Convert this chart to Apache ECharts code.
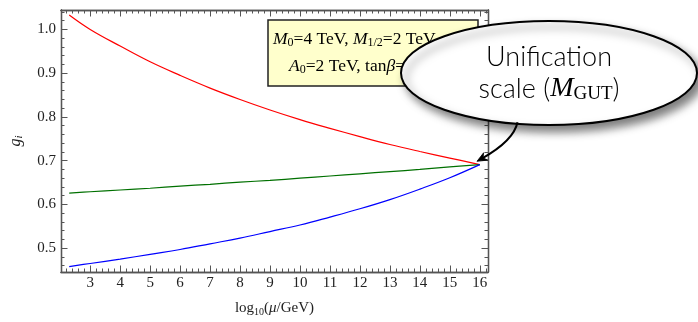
<!DOCTYPE html>
<html>
<head>
<meta charset="utf-8">
<script src="https://cdn.jsdelivr.net/npm/echarts@6/dist/echarts.min.js"></script>
<style>
  html, body { margin: 0; padding: 0; background: #fff; }
  #chart { width: 698px; height: 322px; }
</style>
</head>
<body>
<div id="chart"></div>
<script>
// Running gauge couplings g_i versus log10(mu / GeV)
const logMu = [2.3, 3, 4, 5, 6, 7, 8, 9, 10, 11, 12, 13, 14, 15, 16];
const g3 = [1.033, 1.000, 0.962, 0.926, 0.895, 0.866, 0.840, 0.816, 0.794, 0.774, 0.755, 0.737, 0.721, 0.706, 0.691];
const g2 = [0.626, 0.629, 0.633, 0.637, 0.642, 0.646, 0.651, 0.655, 0.660, 0.665, 0.670, 0.675, 0.680, 0.686, 0.691];
const g1 = [0.458, 0.465, 0.475, 0.486, 0.497, 0.510, 0.523, 0.538, 0.553, 0.571, 0.590, 0.611, 0.635, 0.661, 0.691];

const xTickLabels = [3, 4, 5, 6, 7, 8, 9, 10, 11, 12, 13, 14, 15, 16];
const yTickLabels = [0.5, 0.6, 0.7, 0.8, 0.9, 1.0];

const X_MIN = 2.026, X_MAX = 16.274;
const Y_MIN = 0.4455, Y_MAX = 1.0445;

const FRAME = '#555';
const SERIF = '"Liberation Serif", "DejaVu Serif", serif';

const pairs = ys => logMu.map((x, i) => [x, ys[i]]);
const near = (v, list) => list.some(t => Math.abs(t - v) < 1e-6);

function frameAxis(dim, position, step, len, labels, extra) {
  const isX = dim === 'x';
  return Object.assign({
    type: 'value',
    position: position,
    min: isX ? X_MIN : Y_MIN,
    max: isX ? X_MAX : Y_MAX,
    minInterval: step,
    maxInterval: step,
    axisLine: { show: true, onZero: false, lineStyle: { color: FRAME, width: 1.3 } },
    axisTick: { show: true, inside: true, length: len, lineStyle: { color: FRAME, width: 1 } },
    axisLabel: labels ? Object.assign({
      show: true, color: '#222', fontFamily: SERIF, fontSize: 15,
      showMinLabel: true, showMaxLabel: true, hideOverlap: false
    }, labels) : { show: false },
    splitLine: { show: false },
    minorTick: { show: false },
    minorSplitLine: { show: false }
  }, extra || {});
}

const chart = echarts.init(document.getElementById('chart'), null, { renderer: 'canvas' });

const option = {
  animation: false,
  backgroundColor: '#fff',
  grid: { left: 53, right: 210, top: 10, bottom: 44, containLabel: false },
  xAxis: [
    frameAxis('x', 'bottom', 1, 6.5, {
      margin: 4,
      formatter: v => near(v, xTickLabels) ? String(Math.round(v)) : ''
    }, {
      name: '{n|log}{s|10}{n|(}{i|μ}{n|/GeV)}',
      nameLocation: 'middle',
      nameGap: 27,
      nameTextStyle: {
        color: '#222', fontFamily: SERIF, fontSize: 15,
        rich: {
          n: { fontFamily: SERIF, fontSize: 15, color: '#222', lineHeight: 18, verticalAlign: 'middle' },
          s: { fontFamily: SERIF, fontSize: 10, color: '#222', lineHeight: 11, verticalAlign: 'bottom' },
          i: { fontFamily: SERIF, fontSize: 15, color: '#222', fontStyle: 'italic', lineHeight: 18, verticalAlign: 'middle' }
        }
      }
    }),
    frameAxis('x', 'bottom', 0.2, 3.5, null),
    frameAxis('x', 'top', 1, 6.5, null),
    frameAxis('x', 'top', 0.2, 3.5, null)
  ],
  yAxis: [
    frameAxis('y', 'left', 0.1, 6.5, {
      margin: 5,
      formatter: v => near(v, yTickLabels) ? v.toFixed(1) : ''
    }, {
      name: '{i|g}{s|i}',
      nameLocation: 'middle',
      nameRotate: 90,
      nameGap: 36,
      nameTextStyle: {
        color: '#222', fontFamily: SERIF, fontSize: 16,
        rich: {
          i: { fontFamily: SERIF, fontSize: 16, fontStyle: 'italic', color: '#222', lineHeight: 18, verticalAlign: 'middle' },
          s: { fontFamily: SERIF, fontSize: 11, fontStyle: 'italic', color: '#222', lineHeight: 11, verticalAlign: 'bottom' }
        }
      }
    }),
    frameAxis('y', 'left', 0.02, 3.5, null),
    frameAxis('y', 'right', 0.1, 6.5, null),
    frameAxis('y', 'right', 0.02, 3.5, null)
  ],
  series: [
    { name: 'g3', type: 'line', data: pairs(g3), smooth: 0.4, showSymbol: false, symbol: 'none',
      xAxisIndex: 0, yAxisIndex: 0, lineStyle: { color: '#ff0000', width: 1.2 }, z: 3 },
    { name: 'g2', type: 'line', data: pairs(g2), smooth: 0.4, showSymbol: false, symbol: 'none',
      xAxisIndex: 0, yAxisIndex: 0, lineStyle: { color: '#007000', width: 1.2 }, z: 3 },
    { name: 'g1', type: 'line', data: pairs(g1), smooth: 0.4, showSymbol: false, symbol: 'none',
      xAxisIndex: 0, yAxisIndex: 0, lineStyle: { color: '#0000ff', width: 1.2 }, z: 3 }
  ]
};

chart.setOption(option);

// Parameter box, speech bubble and the arrow pointing at the unification point
const last = logMu.length - 1;
const p = chart.convertToPixel({ xAxisIndex: 0, yAxisIndex: 0 }, [logMu[last], g1[last]]);
const tip = [p[0] - 2.8, p[1] - 3.3];
const start = [p[0] + 37.7, p[1] - 42.3];
const cp1 = [p[0] + 34.7, p[1] - 27.3];
const cp2 = [p[0] + 16.7, p[1] - 14.3];
const dx = tip[0] - cp2[0], dy = tip[1] - cp2[1];
const dl = Math.hypot(dx, dy);
const ux = dx / dl, uy = dy / dl;
const headLen = 10, headHalf = 4.2;
const base = [tip[0] - ux * headLen, tip[1] - uy * headLen];
const lineEnd = [tip[0] - ux * 6, tip[1] - uy * 6];

const boxRich = {
  n: { fontFamily: SERIF, fontSize: 17.5, color: '#111', lineHeight: 20, verticalAlign: 'middle' },
  i: { fontFamily: SERIF, fontSize: 17.5, fontStyle: 'italic', color: '#111', lineHeight: 20, verticalAlign: 'middle' },
  s: { fontFamily: SERIF, fontSize: 12, color: '#111', lineHeight: 12, verticalAlign: 'bottom' }
};
const bubbleRich = {
  t: { fontFamily: 'Lato, "Open Sans", sans-serif', fontSize: 27, fontWeight: 300, color: '#111', lineHeight: 30, verticalAlign: 'middle' },
  m: { fontFamily: SERIF, fontSize: 28, fontStyle: 'italic', color: '#111', lineHeight: 30, verticalAlign: 'middle' },
  u: { fontFamily: SERIF, fontSize: 19, color: '#111', lineHeight: 18, verticalAlign: 'bottom' }
};

chart.setOption({
  graphic: [
    {
      type: 'rect', z: 50,
      shape: { x: 268, y: 20, width: 210, height: 66 },
      style: { fill: '#ffffcc', stroke: '#222', lineWidth: 1.5 }
    },
    {
      type: 'text', z: 51,
      style: {
        x: 273, y: 39, align: 'left', verticalAlign: 'middle',
        text: '{i|M}{s|0}{n|=4 TeV, }{i|M}{s|1/2}{n|=2 TeV,}',
        rich: boxRich
      }
    },
    {
      type: 'text', z: 51,
      style: {
        x: 289, y: 66, align: 'left', verticalAlign: 'middle',
        text: '{i|A}{s|0}{n|=2 TeV, tan}{i|β}{n|=10}',
        rich: boxRich
      }
    },
    {
      type: 'ellipse', z: 60,
      shape: { cx: 549, cy: 73, rx: 148, ry: 52 },
      style: {
        fill: '#ffffff', stroke: '#000', lineWidth: 2,
        shadowBlur: 8, shadowColor: 'rgba(0,0,0,0.5)', shadowOffsetX: 5, shadowOffsetY: 6
      }
    },
    {
      type: 'text', z: 61,
      style: {
        x: 549, y: 57, align: 'center', verticalAlign: 'middle',
        text: '{t|Unification}', rich: bubbleRich
      }
    },
    {
      type: 'text', z: 61,
      style: {
        x: 549, y: 89, align: 'center', verticalAlign: 'middle',
        text: '{t|scale (}{m|M}{u|GUT}{t|)}', rich: bubbleRich
      }
    },
    {
      type: 'bezierCurve', z: 62,
      shape: {
        x1: start[0], y1: start[1], x2: lineEnd[0], y2: lineEnd[1],
        cpx1: cp1[0], cpy1: cp1[1], cpx2: cp2[0], cpy2: cp2[1]
      },
      style: { stroke: '#000', lineWidth: 2, fill: null }
    },
    {
      type: 'polygon', z: 62,
      shape: {
        points: [
          tip,
          [base[0] - uy * headHalf, base[1] + ux * headHalf],
          [tip[0] - ux * headLen * 0.7, tip[1] - uy * headLen * 0.7],
          [base[0] + uy * headHalf, base[1] - ux * headHalf]
        ]
      },
      style: { fill: '#000', stroke: '#000', lineWidth: 0.8 }
    }
  ]
});
</script>
</body>
</html>
